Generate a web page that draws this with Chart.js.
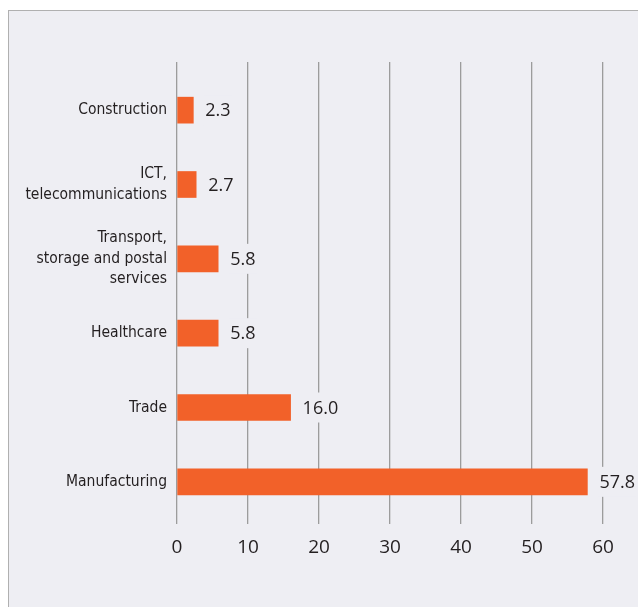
<!DOCTYPE html>
<html>
<head>
<meta charset="utf-8">
<script src="https://cdn.jsdelivr.net/npm/chart.js@4"></script>
<style>
	html, body { margin: 0; padding: 0; background: #ffffff; overflow: hidden; }
	.panel {
		position: absolute; left: 8px; top: 10px; width: 660px; height: 640px;
		background: #eeeef3; border: 1px solid #b0b0b0;
	}
	.wrap { position: absolute; left: 0; top: 0; width: 638px; height: 607px; }
</style>
</head>
<body>
<div class="panel"></div>
<div class="wrap"><canvas id="bar-chart"></canvas></div>
<script>
const categories = [
	['Construction'],
	['ICT,', 'telecommunications'],
	['Transport,', 'storage and postal', 'services'],
	['Healthcare'],
	['Trade'],
	['Manufacturing'],
];
const shares = [2.3, 2.7, 5.8, 5.8, 16.0, 57.8];
const xMin = 0;
const xMax = 60;
const xStep = 10;

const barColor = '#f26129';
const panelColor = '#eeeef3';
const gridColor = '#9c9c9c';
const textColor = '#231f20';

// value labels, with a panel-coloured box behind so the grid lines break
const valueLabels = {
	id: 'valueLabels',
	afterDatasetsDraw(chart) {
		const ctx = chart.ctx;
		const meta = chart.getDatasetMeta(0);
		ctx.save();
		ctx.font = '18px "Open Sans"';
		ctx.textBaseline = 'middle';
		ctx.textAlign = 'left';
		meta.data.forEach((bar, i) => {
			const txt = shares[i].toFixed(1);
			const w = ctx.measureText(txt).width;
			const x = bar.x + 12;
			ctx.fillStyle = panelColor;
			ctx.fillRect(x - 2, bar.y - 15, w + 4, 30);
			ctx.fillStyle = textColor;
			ctx.fillText(txt, x, bar.y + 1);
		});
		ctx.restore();
	},
};

const ctx = document.getElementById('bar-chart').getContext('2d');
new Chart(ctx, {
	type: 'bar',
	data: {
		labels: categories,
		datasets: [
			{
				label: 'share',
				data: shares,
				backgroundColor: barColor,
				borderWidth: 0,
				barThickness: 26,
			},
		],
	},
	options: {
		indexAxis: 'y',
		responsive: true,
		maintainAspectRatio: false,
		animation: false,
		layout: { padding: { top: 62, right: 35, bottom: 48, left: 0 } },
		plugins: {
			legend: { display: false },
			tooltip: { enabled: false },
		},
		scales: {
			x: {
				position: 'bottom',
				min: xMin,
				max: xMax,
				border: { display: false },
				grid: { color: gridColor, lineWidth: 1.3, tickLength: 5, tickColor: gridColor },
				ticks: {
					stepSize: xStep,
					padding: 12,
					color: textColor,
					font: { family: '"Open Sans"', size: 19 },
					maxRotation: 0,
				},
				afterFit(scale) { scale.height = 40; },
			},
			xTop: {
				position: 'top',
				axis: 'x',
				min: xMin,
				max: xMax,
				border: { display: false },
				grid: { drawOnChartArea: false, color: gridColor, lineWidth: 1.3, tickLength: 11, tickColor: gridColor },
				ticks: { display: false, stepSize: xStep },
				afterFit(scale) { scale.height = 11; },
			},
			y: {
				border: { display: false },
				grid: { display: false, drawTicks: false },
				ticks: {
					padding: 10,
					color: textColor,
					font: { family: '"DejaVu Sans Condensed", "Liberation Sans Narrow", sans-serif', size: 15.5, lineHeight: 1.32 },
				},
				afterFit(scale) { scale.width = 177; },
			},
		},
	},
	plugins: [valueLabels],
});
</script>
</body>
</html>
